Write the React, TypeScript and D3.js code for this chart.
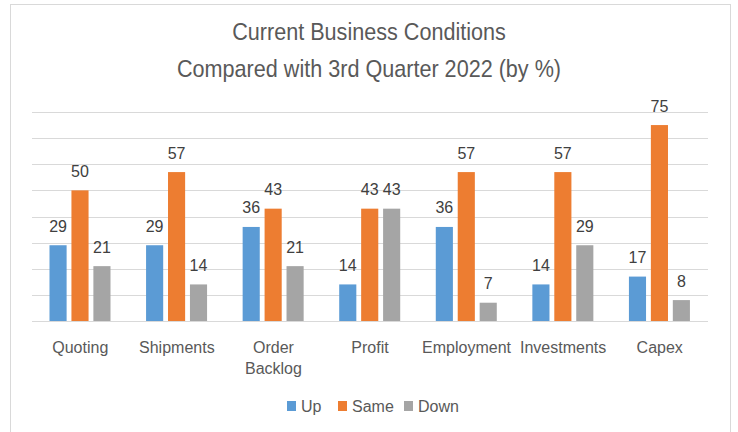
import React, { useRef, useEffect } from 'react';
import * as d3 from 'd3';

const categories = ['Quoting', 'Shipments', 'Order Backlog', 'Profit', 'Employment', 'Investments', 'Capex'];
const seriesNames = ['Up', 'Same', 'Down'];
const upValues = [29, 29, 36, 14, 36, 14, 17];
const sameValues = [50, 57, 43, 43, 57, 57, 75];
const downValues = [21, 14, 21, 43, 7, 29, 8];
const yTicks = [0, 10, 20, 30, 40, 50, 60, 70, 80];
const titleLines = ['Current Business Conditions', 'Compared with 3rd Quarter 2022 (by %)'];

const COLORS = {
    up: '#5B9BD5',
    same: '#ED7D31',
    down: '#A5A5A5',
    grid: '#D9D9D9',
    text: '#595959',
    label: '#404040',
};
const FONT = '"Liberation Sans", Arial, sans-serif';

const App: React.FC = () => {
    const ref = useRef<SVGSVGElement>(null);

    useEffect(() => {
        if (!ref.current) return;
        const svg = d3.select(ref.current);
        svg.selectAll('*').remove();

        const H = 432;
        const left = 32, right = 708, top = 112, bottom = 321;
        const seriesValues = [upValues, sameValues, downValues];
        const seriesColors = [COLORS.up, COLORS.same, COLORS.down];

        // chart area border
        svg.append('rect')
            .attr('x', 10.5).attr('y', 4.5)
            .attr('width', 720).attr('height', H + 10)
            .attr('fill', '#fff')
            .attr('stroke', COLORS.grid);

        // title (squeezed a bit horizontally to mimic the narrow Calibri look)
        svg.append('g').selectAll('text')
            .data(titleLines)
            .enter()
            .append('text')
            .attr('transform', (d, i) => `translate(369,${40 + i * 37}) scale(0.9,1)`)
            .attr('text-anchor', 'middle')
            .style('font-family', FONT)
            .style('font-size', '24px')
            .style('fill', COLORS.text)
            .text(d => d);

        const x0 = d3.scaleBand().domain(categories).range([left, right]).padding(0);
        const x1 = d3.scaleBand().domain(seriesNames).range([17.5, 78.5]).paddingInner(0.22).paddingOuter(0);
        const y = d3.scaleLinear().domain([0, 80]).range([bottom, top]);

        // gridlines
        svg.append('g').selectAll('line')
            .data(yTicks)
            .enter()
            .append('line')
            .attr('x1', left).attr('x2', right)
            .attr('y1', d => Math.round(y(d)) + 0.5)
            .attr('y2', d => Math.round(y(d)) + 0.5)
            .attr('stroke', COLORS.grid)
            .attr('stroke-width', 1);

        // bars + labels
        seriesNames.forEach((name, si) => {
            const vals = seriesValues[si];
            const g = svg.append('g');
            g.selectAll('rect')
                .data(vals)
                .enter()
                .append('rect')
                .attr('x', (d, i) => (x0(categories[i]) as number) + (x1(name) as number))
                .attr('y', d => y(d))
                .attr('width', x1.bandwidth())
                .attr('height', d => bottom - y(d))
                .attr('fill', seriesColors[si]);
            g.selectAll('text')
                .data(vals)
                .enter()
                .append('text')
                .attr('x', (d, i) => (x0(categories[i]) as number) + (x1(name) as number) + x1.bandwidth() / 2)
                .attr('y', d => y(d) - 13.5)
                .attr('text-anchor', 'middle')
                .style('font-family', FONT)
                .style('font-size', '16px')
                .style('fill', COLORS.label)
                .text(d => d);
        });

        // category labels (wrapped)
        const cat = svg.append('g');
        categories.forEach(c => {
            const words = c === 'Order Backlog' ? ['Order', 'Backlog'] : [c];
            words.forEach((w, i) => {
                cat.append('text')
                    .attr('x', (x0(c) as number) + x0.bandwidth() / 2)
                    .attr('y', 353 + i * 21)
                    .attr('text-anchor', 'middle')
                    .style('font-family', FONT)
                    .style('font-size', '16px')
                    .style('fill', COLORS.text)
                    .text(w);
            });
        });

        // legend
        const legendX = [287, 338, 404];
        const legend = svg.append('g');
        seriesNames.forEach((name, i) => {
            legend.append('rect')
                .attr('x', legendX[i]).attr('y', 401)
                .attr('width', 9).attr('height', 10)
                .attr('fill', seriesColors[i]);
            legend.append('text')
                .attr('x', legendX[i] + 14)
                .attr('y', 412)
                .style('font-family', FONT)
                .style('font-size', '16px')
                .style('fill', COLORS.text)
                .text(name);
        });
    }, []);

    return (
        <svg ref={ref} width={738} height={432}
            style={{ position: 'absolute', left: 0, top: 0, background: '#fff' }} />
    );
};

export default App;
